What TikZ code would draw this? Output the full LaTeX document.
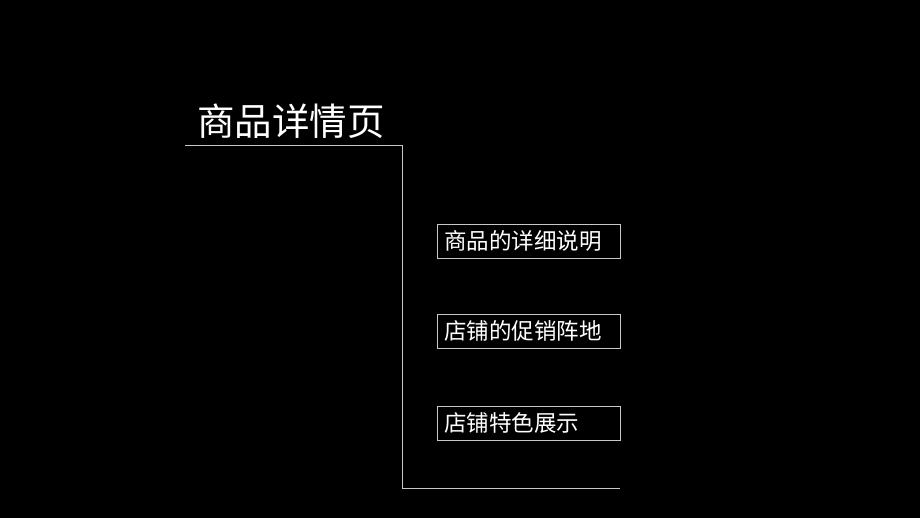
\documentclass[tikz,border=0pt]{standalone}
\usepackage{fontspec}
\newfontfamily\cjk{Noto Sans CJK SC}
\begin{document}
\begin{tikzpicture}[x=1pt,y=-1pt,
  item/.style={draw=lineg,line width=0.8pt,minimum width=183pt,minimum height=34pt,inner sep=0pt,anchor=north west,text=white,font=\cjk\fontsize{22.5}{22.5}\selectfont,text width=169pt,align=left}]
\definecolor{lineg}{RGB}{200,200,200}
\fill[black] (0,0) rectangle (920,518);
\useasboundingbox (0,0) rectangle (920,518);
\node[anchor=west,text=white,font=\cjk\fontsize{37.5}{37.5}\selectfont,inner sep=0pt] (title) at (197,121) {商品详情页};
\coordinate (a) at (185,145);
\coordinate (b) at (402,145);
\coordinate (c) at (402,488);
\coordinate (d) at (620,488);
\draw[lineg,line width=0.8pt] (a) -- (b) -- (c) -- (d);
\node[item] (n1) at (437,224) {商品的详细说明};
\node[item] (n2) at (437,314) {店铺的促销阵地};
\node[item] (n3) at (437,406) {店铺特色展示};
\end{tikzpicture}
\end{document}
